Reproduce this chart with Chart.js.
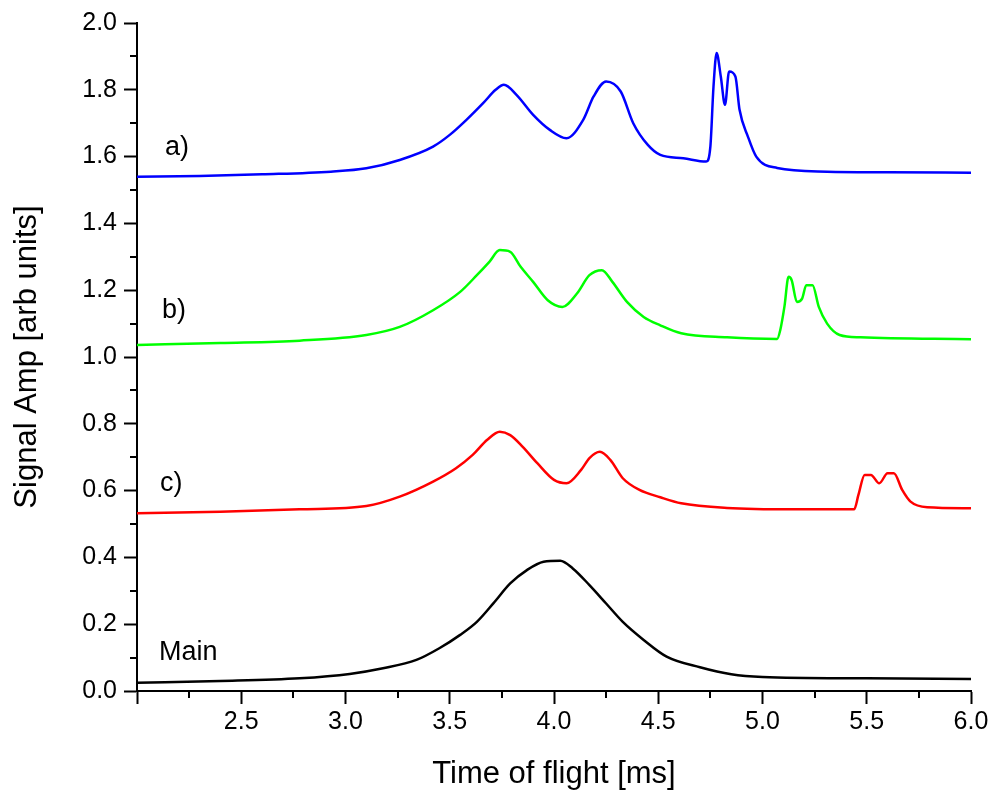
<!DOCTYPE html>
<html>
<head>
<meta charset="utf-8">
<script src="https://cdn.jsdelivr.net/npm/chart.js@4.4.1/dist/chart.umd.min.js"></script>
<style>
  html, body { margin: 0; padding: 0; background: #fff; }
  #wrap { width: 992px; height: 793px; }
</style>
</head>
<body>
<div id="wrap"><canvas id="tofChart" width="992" height="793"></canvas></div>
<script>
// Werte (Zeit in ms, Signal in arb units)
const timeA = [2.0, 2.3, 2.6, 2.93, 3.1, 3.26, 3.42, 3.5, 3.58, 3.66, 3.72, 3.76, 3.82, 3.90, 3.98, 4.06, 4.14, 4.19, 4.25, 4.32, 4.38, 4.45, 4.51, 4.62, 4.73, 4.75, 4.765, 4.78, 4.80, 4.82, 4.84, 4.87, 4.89, 4.93, 4.97, 5.07, 5.31, 5.6, 6.0];
const sigA  = [1.54, 1.542, 1.547, 1.555, 1.565, 1.59, 1.63, 1.665, 1.71, 1.76, 1.80, 1.815, 1.785, 1.725, 1.68, 1.655, 1.71, 1.78, 1.825, 1.795, 1.70, 1.635, 1.605, 1.595, 1.585, 1.63, 1.81, 1.91, 1.84, 1.755, 1.855, 1.84, 1.74, 1.66, 1.60, 1.566, 1.555, 1.553, 1.552];

const timeB = [2.0, 2.4, 2.78, 3.10, 3.26, 3.42, 3.55, 3.63, 3.69, 3.74, 3.79, 3.84, 3.90, 3.97, 4.04, 4.11, 4.17, 4.23, 4.28, 4.35, 4.43, 4.51, 4.61, 4.83, 5.07, 5.085, 5.105, 5.125, 5.14, 5.165, 5.19, 5.21, 5.24, 5.27, 5.31, 5.37, 5.47, 6.0];
const sigB  = [1.036, 1.042, 1.049, 1.066, 1.09, 1.14, 1.195, 1.245, 1.285, 1.32, 1.315, 1.27, 1.225, 1.17, 1.15, 1.19, 1.245, 1.26, 1.225, 1.165, 1.12, 1.095, 1.071, 1.059, 1.054, 1.08, 1.15, 1.24, 1.23, 1.165, 1.175, 1.215, 1.215, 1.15, 1.10, 1.066, 1.059, 1.053];

const timeC = [2.0, 2.4, 2.78, 3.10, 3.26, 3.42, 3.53, 3.61, 3.68, 3.74, 3.79, 3.85, 3.92, 4.00, 4.06, 4.13, 4.17, 4.22, 4.27, 4.33, 4.41, 4.51, 4.61, 4.83, 5.15, 5.44, 5.46, 5.49, 5.52, 5.56, 5.60, 5.63, 5.67, 5.71, 5.79, 6.0];
const sigC  = [0.532, 0.537, 0.544, 0.554, 0.582, 0.627, 0.667, 0.707, 0.752, 0.776, 0.766, 0.731, 0.682, 0.632, 0.622, 0.662, 0.697, 0.716, 0.692, 0.637, 0.602, 0.58, 0.562, 0.548, 0.544, 0.544, 0.587, 0.647, 0.647, 0.622, 0.652, 0.652, 0.602, 0.567, 0.55, 0.547];

const timeMain = [2.0, 2.4, 2.78, 3.02, 3.18, 3.34, 3.45, 3.55, 3.63, 3.71, 3.79, 3.87, 3.95, 4.03, 4.09, 4.17, 4.25, 4.33, 4.43, 4.54, 4.70, 4.85, 5.0, 5.5, 6.0];
const sigMain  = [0.025, 0.03, 0.038, 0.051, 0.068, 0.093, 0.128, 0.168, 0.207, 0.263, 0.322, 0.362, 0.387, 0.39, 0.367, 0.317, 0.262, 0.207, 0.153, 0.103, 0.071, 0.05, 0.042, 0.038, 0.036];

// Beschriftungen an den Kurven
const curveLabels = ['a)', 'b)', 'c)', 'Main'];
const labelX = [2.134, 2.12, 2.11, 2.106];
const labelY = [1.626, 1.138, 0.62, 0.114];

const FONT = "'Liberation Sans', Arial, sans-serif";

function toPoints(xs, ys) {
    return xs.map((x, i) => ({ x: x, y: ys[i] }));
}

function serie(xs, ys, color) {
    return {
        data: toPoints(xs, ys),
        borderColor: color,
        borderWidth: 2.5,
        pointRadius: 0,
        cubicInterpolationMode: 'monotone',
        fill: false
    };
}

// kleine Zwischenstriche + Kurvenbeschriftung
const extrasPlugin = {
    id: 'extras',
    afterDraw(chart) {
        const ctx = chart.ctx;
        const xs = chart.scales.x, ys = chart.scales.y;
        const area = chart.chartArea;
        ctx.save();
        ctx.strokeStyle = '#000';
        ctx.lineWidth = 2;
        ctx.beginPath();
        for (let v = 2.25; v < 6; v += 0.5) {
            const px = Math.round(xs.getPixelForValue(v));
            ctx.moveTo(px, area.bottom);
            ctx.lineTo(px, area.bottom + 7);
        }
        for (let v = 0.1; v < 2; v += 0.2) {
            const py = Math.round(ys.getPixelForValue(v));
            ctx.moveTo(area.left, py);
            ctx.lineTo(area.left - 7, py);
        }
        ctx.stroke();

        ctx.fillStyle = '#000';
        ctx.font = '27px ' + FONT;
        ctx.textAlign = 'left';
        ctx.textBaseline = 'middle';
        curveLabels.forEach((t, i) => {
            ctx.fillText(t, xs.getPixelForValue(labelX[i]), ys.getPixelForValue(labelY[i]));
        });
        ctx.restore();
    }
};

const ctx = document.getElementById('tofChart').getContext('2d');
new Chart(ctx, {
    type: 'line',
    data: {
        datasets: [
            serie(timeA, sigA, '#0000ff'),
            serie(timeB, sigB, '#00ff00'),
            serie(timeC, sigC, '#ff0000'),
            serie(timeMain, sigMain, '#000000')
        ]
    },
    options: {
        responsive: false,
        animation: false,
        layout: { padding: { left: 0, right: 21, top: 23, bottom: 0 } },
        plugins: { legend: { display: false }, tooltip: { enabled: false } },
        scales: {
            x: {
                type: 'linear',
                min: 2, max: 6,
                afterFit: s => { s.height = 102; },
                border: { color: '#000', width: 2 },
                grid: { drawOnChartArea: false, drawTicks: true, tickLength: 13, tickWidth: 2, tickColor: '#000' },
                ticks: {
                    stepSize: 0.5,
                    color: '#000',
                    padding: 3,
                    maxRotation: 0,
                    font: { family: FONT, size: 25 },
                    callback: v => (v === 2 ? '' : v.toFixed(1))
                },
                title: {
                    display: true,
                    text: 'Time of flight [ms]',
                    color: '#000',
                    padding: 0,
                    font: { family: FONT, size: 31 }
                }
            },
            y: {
                min: 0, max: 2,
                afterFit: s => { s.width = 137; },
                border: { color: '#000', width: 2 },
                grid: { drawOnChartArea: false, drawTicks: true, tickLength: 13, tickWidth: 2, tickColor: '#000' },
                ticks: {
                    stepSize: 0.2,
                    color: '#000',
                    padding: 7,
                    font: { family: FONT, size: 25 },
                    callback: v => v.toFixed(1)
                },
                title: {
                    display: true,
                    text: 'Signal Amp [arb units]',
                    color: '#000',
                    padding: { top: 9, bottom: 0 },
                    font: { family: FONT, size: 31 }
                }
            }
        }
    },
    plugins: [extrasPlugin]
});
</script>
</body>
</html>
